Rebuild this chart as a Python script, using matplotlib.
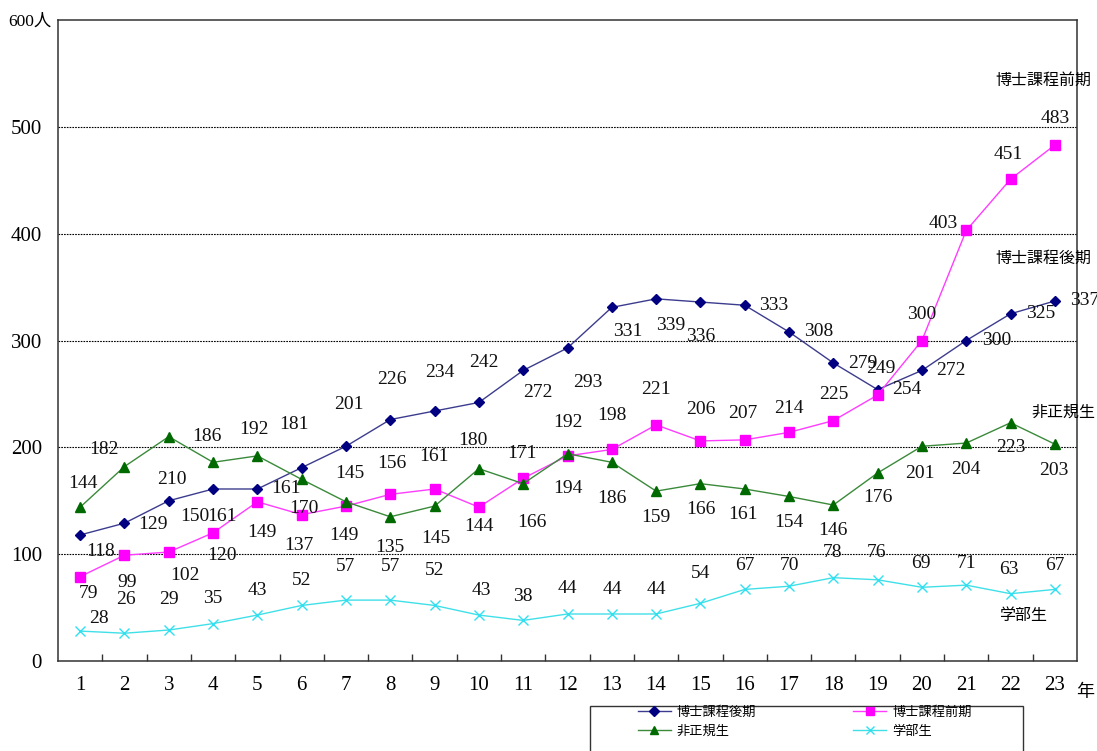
import matplotlib
matplotlib.use("Agg")
import matplotlib.pyplot as plt
from matplotlib.patches import Rectangle

# ---------------- data ----------------
years = list(range(1, 24))
doctor_late = [118, 129, 150, 161, 161, 181, 201, 226, 234, 242, 272, 293,
               331, 339, 336, 333, 308, 279, 254, 272, 300, 325, 337]
doctor_early = [79, 99, 102, 120, 149, 137, 145, 156, 161, 144, 171, 192,
                198, 221, 206, 207, 214, 225, 249, 300, 403, 451, 483]
nonregular = [144, 182, 210, 186, 192, 170, 149, 135, 145, 180, 166, 194,
              186, 159, 166, 161, 154, 146, 176, 201, 204, 223, 203]
undergrad = [28, 26, 29, 35, 43, 52, 57, 57, 52, 43, 38, 44,
             44, 44, 54, 67, 70, 78, 76, 69, 71, 63, 67]
series_names = ["博士課程後期", "博士課程前期", "非正規生", "学部生"]
y_ticks = [0, 100, 200, 300, 400, 500, 600]
y_tick_labels = ["0", "100", "200", "300", "400", "500", ""]

# label offsets in pixels (dx, dy downward) -- styling only
off_late = [(20, 17), (29, 1), (26, 16), (9, 28), (29, 0), (-8, -43), (3, -42),
            (2, -40), (5, -39), (5, -40), (15, 22), (20, 35), (16, 24), (15, 27),
            (0, 34), (29, 0), (30, 0), (29, 1), (29, 0), (29, 0), (30, 0), (30, 0), (30, 0)]
off_early = [(8, 17), (3, 27), (16, 23), (9, 23), (5, 31), (-3, 31), (4, -33),
             (2, -31), (-1, -32), (0, 19), (-1, -25), (0, -33), (0, -34), (0, -35),
             (0, -31), (-2, -26), (0, -24), (0, -26), (3, -26), (0, -26), (-23, -7),
             (-2, -25), (0, -26)]
off_nonreg = [(3, -24), (-20, -17), (3, 43), (-6, -26), (-3, -26), (2, 29), (-2, 34),
              (0, 31), (1, 32), (-6, -28), (9, 39), (0, 35), (0, 36), (0, 26), (0, 26),
              (-2, 26), (0, 26), (0, 25), (0, 25), (-2, 27), (0, 26), (0, 25), (-1, 26)]
off_under = [(19, -13), (1, -34), (0, -31), (0, -25), (0, -25), (0, -25), (0, -34),
             (0, -34), (0, -35), (2, -25), (0, -24), (0, -25), (1, -24), (0, -24),
             (0, -30), (0, -24), (0, -21), (-1, -25), (-1, -27), (-1, -24), (0, -22),
             (-2, -24), (0, -24)]

plt.rcParams["font.family"] = ["Liberation Serif", "Noto Sans CJK JP"]
CJK = ["Noto Sans CJK JP", "DejaVu Sans"]

fig = plt.figure(figsize=(10.97, 7.51), dpi=100)
ax = fig.add_axes([58 / 1097, 1 - 661 / 751, 1019 / 1097, 641 / 751])

styles = [
    dict(color="#3c3c8e", marker="D", ms=5.5, mfc="#000080", mec="#000080"),
    dict(color="#ff3cff", marker="s", ms=7, mfc="#ff00ff", mec="#ff00ff"),
    dict(color="#3a8a3a", marker="^", ms=7.5, mfc="#006a00", mec="#006a00"),
    dict(color="#40e0e8", marker="x", ms=7, mfc="#30e0f0", mec="#30e0f0", mew=1.0),
]
all_series = [doctor_late, doctor_early, nonregular, undergrad]
all_offsets = [off_late, off_early, off_nonreg, off_under]

handles = []
for vals, st, name in zip(all_series, styles, series_names):
    ln, = ax.plot(years, vals, lw=1.0, label=name, zorder=3, clip_on=False, **st)
    handles.append(ln)

for vals, offs in zip(all_series, all_offsets):
    for x, v, (dx, dy) in zip(years, vals, offs):
        ax.annotate(str(v), (x, v), xytext=(dx, -dy), textcoords="offset pixels",
                    ha="center", va="center", fontsize=14, color="#111111",
                    family="Liberation Serif", zorder=5, annotation_clip=False)

ax.set_xlim(0.5, 23.5)
ax.set_ylim(0, 600)
ax.set_xticks(years)
ax.set_xticklabels([str(y) for y in years])
ax.set_xticks([y + 0.5 for y in years[:-1]], minor=True)
ax.tick_params(axis="x", which="major", length=0, pad=11, labelsize=15)
ax.tick_params(axis="x", which="minor", direction="in", length=5, width=1, color="#333333")
ax.set_yticks(y_ticks)
ax.set_yticklabels(y_tick_labels)
ax.tick_params(axis="y", length=0, pad=11.5, labelsize=15)

for y in y_ticks[1:-1]:
    ax.axhline(y, color="black", lw=0.8, ls=(0, (1.5, 1.0)), zorder=1)

for sp in ax.spines.values():
    sp.set_color("#333333")
    sp.set_linewidth(1.1)

# unit labels
fig.text(8 / 1097, 1 - 22 / 751, "600人", ha="left", va="center", fontsize=12.5,
         family=["Liberation Serif", "Noto Sans CJK JP"])
fig.text(1085 / 1097, 1 - 692 / 751, "年", ha="center", va="center", fontsize=13,
         family=CJK)

# series name labels at right
right_labels = [("博士課程前期", 1043, 80), ("博士課程後期", 1043, 258),
                ("非正規生", 1063, 412), ("学部生", 1023, 615)]
for txt, xp, yp in right_labels:
    fig.text(xp / 1097, 1 - yp / 751, txt, ha="center", va="center",
             fontsize=11.5, family=CJK, zorder=10)

# legend (row-major order: column-first filling needs reordering)
order = [0, 2, 1, 3]
leg = fig.legend([handles[i] for i in order], [series_names[i] for i in order],
                 ncol=2, loc="upper left",
                 bbox_to_anchor=(638 / 1097, 1 - 706 / 751), bbox_transform=fig.transFigure,
                 frameon=False, borderpad=0, borderaxespad=0, handlelength=2.5,
                 handletextpad=0.45, columnspacing=7.35, labelspacing=0.45,
                 prop={"family": CJK, "size": 9.5})
for h in leg.legend_handles:
    h.set_markersize(h.get_markersize() * 0.85)
fig.add_artist(Rectangle((590 / 1097, -0.05), 433 / 1097, 0.05 + 1 - 706 / 751,
                         transform=fig.transFigure, fill=False, edgecolor="#333333", lw=1.0))

fig.savefig("out.png", dpi=100)
